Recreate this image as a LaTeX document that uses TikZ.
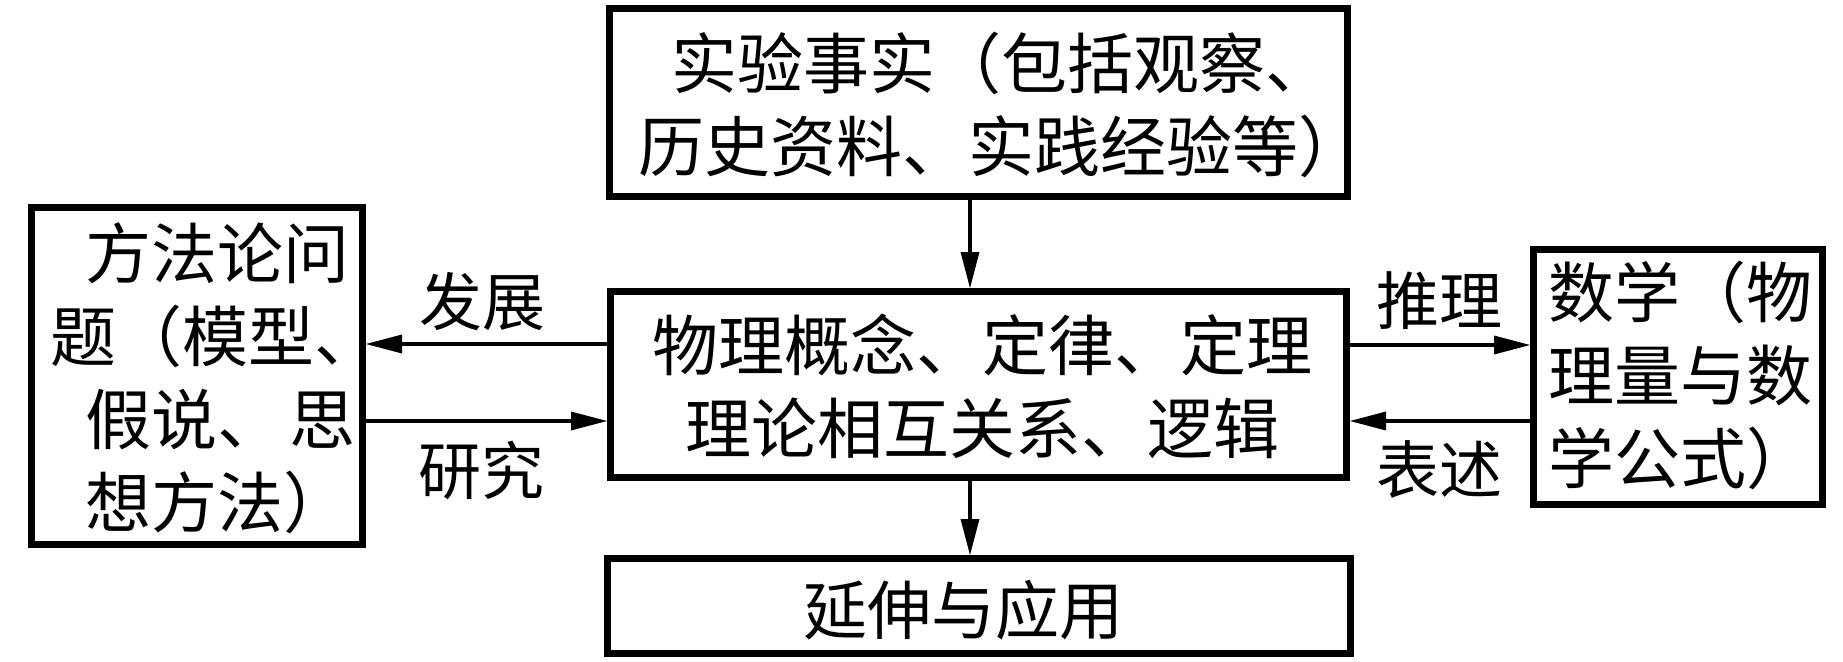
\documentclass[tikz,border=0pt]{standalone}
\usepackage{fontspec}
\setmainfont{Noto Sans CJK SC}
\usetikzlibrary{arrows.meta}
\begin{document}
\begin{tikzpicture}[x=1pt,y=-1pt,
  box/.style={draw=black, line width=7pt, inner sep=0pt},
  txt/.style={inner sep=0pt, align=center, font=\fontsize{66pt}{83pt}\selectfont},
  lbl/.style={inner sep=0pt, font=\fontsize{63pt}{76pt}\selectfont},
  arr/.style={line width=3.5pt, -{Triangle[length=36pt,width=19pt,line width=0pt]}}]
\useasboundingbox[fill=white] (0,0) rectangle (1843,661);
% boxes
\node[box, minimum width=738pt, minimum height=188pt] (top) at (978.5,102.5) {};
\node[box, minimum width=736pt, minimum height=186pt] (mid) at (978.5,384.5) {};
\node[box, minimum width=743pt, minimum height=95pt] (bot) at (979,606) {};
\node[box, minimum width=331pt, minimum height=337pt] (lbox) at (197,376) {};
\node[box, minimum width=289pt, minimum height=255pt] (rbox) at (1678,377) {};
% texts
\node[txt] (toptext) at (1001,105) {实验事实（包括观察、\\历史资料、实践经验等）};
\node[txt] (midtext) at (982,386.5) {物理概念、定律、定理\\理论相互关系、逻辑};
\node[txt, font=\fontsize{64pt}{80pt}\selectfont] (bottext) at (963,610) {延伸与应用};
\node[txt, align=left, anchor=west] (ltext) at (50,378)
  {\hspace*{35pt}方法论问\\题（模型、\\\hspace*{35pt}假说、\hspace{6pt}思\\\hspace*{35pt}想方法）};
\node[txt, align=left] (rtext) at (1680,375.5) {数学（物\\理量与数\\学公式）};
% labels
\node[lbl] (fz) at (482,302) {发展};
\node[lbl] (yj) at (481,470) {研究};
\node[lbl] (tl) at (1439.5,301) {推理};
\node[lbl] (bs) at (1439.5,469.5) {表述};
% connectors
\draw[arr] (top.south -| 970,0) -- (mid.north -| 970,0);
\draw[arr] (mid.south -| 970,0) -- (bot.north -| 970,0);
\draw[arr] (mid.west |- 0,344) -- (lbox.east |- 0,344);
\draw[arr] (lbox.east |- 0,421) -- (mid.west |- 0,421);
\draw[arr] (mid.east |- 0,345) -- (rbox.west |- 0,345);
\draw[arr] (rbox.west |- 0,421) -- (mid.east |- 0,421);
\end{tikzpicture}
\end{document}
